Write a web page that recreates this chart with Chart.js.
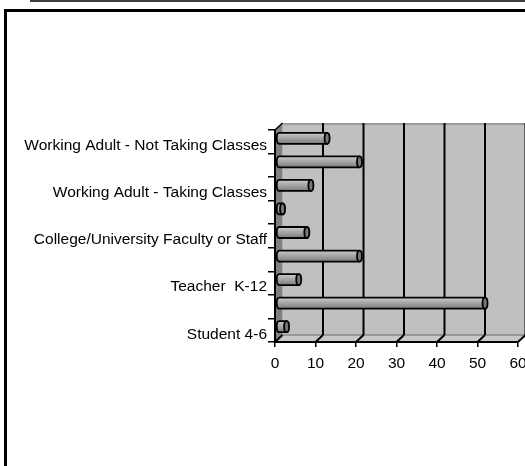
<!DOCTYPE html>
<html><head><meta charset="utf-8">
<script src="https://cdn.jsdelivr.net/npm/chart.js@4/dist/chart.umd.min.js"></script>
<style>
html,body{margin:0;padding:0;background:#fff;overflow:hidden;width:525px;height:466px;}
#topline{position:absolute;left:30px;top:0;width:495px;height:2px;background:#404040;}
#frame{position:absolute;left:4px;top:9px;width:600px;height:600px;border-left:3px solid #000;border-top:3px solid #000;}
#wrap{position:absolute;left:0;top:0;width:560px;height:466px;}
</style></head><body>
<div id="topline"></div><div id="frame"></div>
<div id="wrap"><canvas id="c" width="560" height="466"></canvas></div>
<script>
// Categories from top to bottom (unlabeled bars have no visible name)
const categories = ["Working Adult - Not Taking Classes", "", "Working Adult - Taking Classes", "", "College/University Faculty or Staff", "", "Teacher  K-12", "", "Student 4-6"];
const values = [12, 20, 8, 1, 7, 20, 5, 51, 2];
const xTicks = [0, 10, 20, 30, 40, 50, 60];

const DX = 7.5, DY = -7;     // depth of the 3D box
const BX = 3.5, BY = -3.5;   // bar depth position

const wallsPlugin = {
  id: 'walls',
  beforeDraw(chart) {
    const ctx = chart.ctx, xs = chart.scales.x, ys = chart.scales.y;
    const L = xs.getPixelForValue(xTicks[0]), R = xs.getPixelForValue(xTicks[xTicks.length - 1]);
    const T = ys.top, B = ys.bottom;
    ctx.save();
    ctx.fillStyle = '#c0c0c0';
    ctx.fillRect(L + DX, T + DY, R - L, B - T);
    ctx.fillStyle = '#c8c8c8';
    ctx.beginPath();
    ctx.moveTo(L, B); ctx.lineTo(R, B); ctx.lineTo(R + DX, B + DY); ctx.lineTo(L + DX, B + DY); ctx.closePath();
    ctx.fill();
    ctx.strokeStyle = '#8a8a8a'; ctx.lineWidth = 1.5;
    ctx.beginPath(); ctx.moveTo(L + DX, B + DY); ctx.lineTo(R + DX, B + DY); ctx.stroke();
    ctx.strokeStyle = '#9a9a9a'; ctx.lineWidth = 2;
    ctx.beginPath(); ctx.moveTo(L + DX, T + DY + 1); ctx.lineTo(R + DX, T + DY + 1); ctx.stroke();
    ctx.fillStyle = '#808080';
    ctx.beginPath();
    ctx.moveTo(L, T); ctx.lineTo(L + DX, T + DY); ctx.lineTo(L + DX, B + DY); ctx.lineTo(L, B); ctx.closePath();
    ctx.fill();
    ctx.strokeStyle = '#000'; ctx.lineWidth = 1.5;
    ctx.beginPath(); ctx.moveTo(L, T); ctx.lineTo(L + DX, T + DY); ctx.stroke();
    ctx.strokeStyle = '#000'; ctx.lineWidth = 2;
    xTicks.forEach(v => {
      const x = xs.getPixelForValue(v);
      if (v > xTicks[0]) {
        ctx.beginPath(); ctx.moveTo(x + DX, T + DY); ctx.lineTo(x + DX, B + DY); ctx.stroke();
      }
      ctx.beginPath(); ctx.moveTo(x + DX, B + DY); ctx.lineTo(x, B); ctx.stroke();
    });
    ctx.restore();
  },
  afterDatasetsDraw(chart) {
    const ctx = chart.ctx;
    const meta = chart.getDatasetMeta(0);
    ctx.save();
    meta.data.forEach(el => {
      const ry = el.height / 2, rx = 2.5;
      const yc = el.y + BY, x0 = el.base + BX, x1 = el.x + BX;
      const g = ctx.createLinearGradient(0, yc - ry, 0, yc + ry);
      g.addColorStop(0, '#cfcfcf');
      g.addColorStop(0.3, '#b2b2b2');
      g.addColorStop(0.55, '#a0a0a0');
      g.addColorStop(1, '#7a7a7a');
      ctx.beginPath();
      ctx.moveTo(x1, yc - ry);
      ctx.lineTo(x0, yc - ry);
      ctx.ellipse(x0, yc, rx, ry, 0, -Math.PI / 2, Math.PI / 2, true);
      ctx.lineTo(x1, yc + ry);
      ctx.closePath();
      ctx.fillStyle = g; ctx.fill();
      ctx.strokeStyle = '#000'; ctx.lineWidth = 1.8; ctx.stroke();
      ctx.beginPath();
      ctx.ellipse(x1, yc, rx, ry, 0, 0, Math.PI * 2);
      ctx.fillStyle = '#777'; ctx.fill();
      ctx.stroke();
    });
    ctx.restore();
  }
};

new Chart(document.getElementById('c'), {
  type: 'bar',
  data: {
    labels: categories,
    datasets: [{
      data: values,
      backgroundColor: 'rgba(0,0,0,0)',
      borderWidth: 0,
      barThickness: 11
    }]
  },
  options: {
    indexAxis: 'y',
    responsive: false,
    animation: false,
    layout: { padding: { top: 130, right: 42, left: 0, bottom: 0 } },
    plugins: { legend: { display: false }, tooltip: { enabled: false } },
    scales: {
      x: {
        min: xTicks[0], max: xTicks[xTicks.length - 1],
        afterBuildTicks: s => { s.ticks = xTicks.map(v => ({ value: v })); },
        afterFit: s => { s.height = 124; },
        grid: { drawOnChartArea: false, tickLength: 5, color: '#000', lineWidth: 1.5 },
        border: { color: '#000', width: 2 },
        ticks: { color: '#000', padding: 7, maxRotation: 0, font: { family: "'Liberation Sans', Arial, sans-serif", size: 15.5 } }
      },
      y: {
        afterFit: s => { s.width = 275; },
        grid: { drawOnChartArea: false, tickLength: 7, color: '#000', lineWidth: 1.5 },
        border: { color: '#000', width: 2 },
        ticks: { color: '#000', padding: 1, labelOffset: 4, autoSkip: false, font: { family: "'Liberation Sans', Arial, sans-serif", size: 15.5 } }
      }
    }
  },
  plugins: [wallsPlugin]
});
</script>
</body></html>
